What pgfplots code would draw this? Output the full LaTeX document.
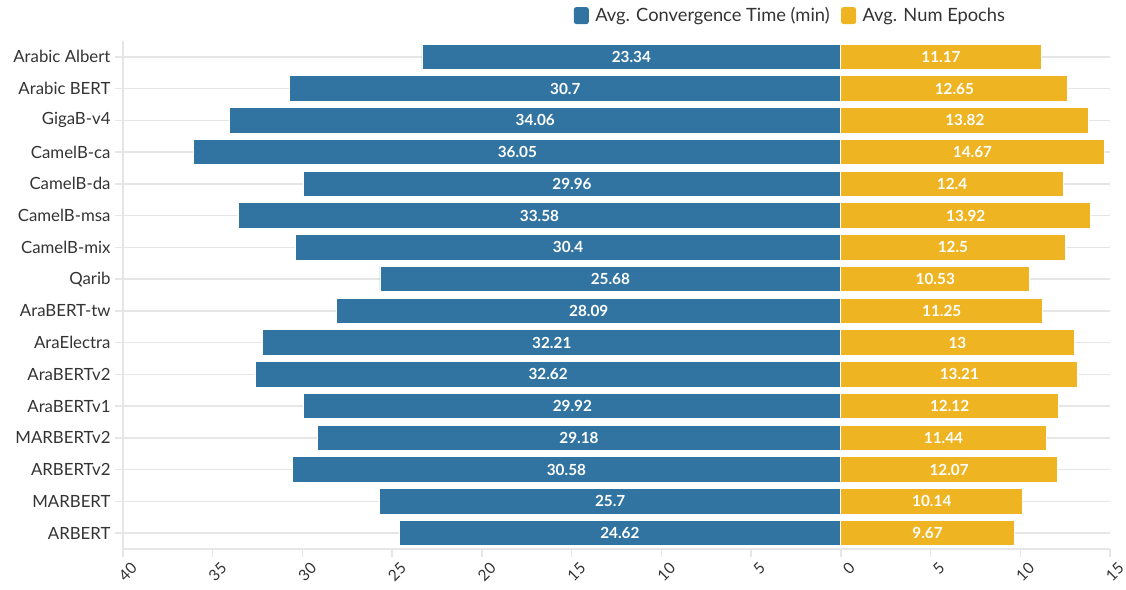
\documentclass[border=0pt]{standalone}
\usepackage{pgfplots}
\pgfplotsset{compat=1.18}
\usepackage{pgfplotstable}
\usepackage{fontspec}
\setmainfont{Lato}
\definecolor{cblue}{HTML}{3274A1}
\definecolor{cyel}{HTML}{EEB422}
\definecolor{gridc}{HTML}{E6E6E6}
\definecolor{txt}{HTML}{333333}

\pgfplotstableread{
y conv epochs
15 23.34 11.17
14 30.7 12.65
13 34.06 13.82
12 36.05 14.67
11 29.96 12.4
10 33.58 13.92
9 30.4 12.5
8 25.68 10.53
7 28.09 11.25
6 32.21 13
5 32.62 13.21
4 29.92 12.12
3 29.18 11.44
2 30.58 12.07
1 25.7 10.14
0 24.62 9.67
}\datatable

\begin{document}
\begin{tikzpicture}
\path[use as bounding box] (0bp,0bp) rectangle (1126bp,590bp);
\begin{axis}[
  at={(123bp,41bp)}, anchor=south west,
  scale only axis, width=987bp, height=508bp,
  xmin=-40, xmax=15, ymin=-0.5, ymax=15.5,
  axis lines*=left,
  axis line style={gridc, line width=1.6bp},
  ytick={0,...,15},
  yticklabels={ARBERT,MARBERT,ARBERTv2,MARBERTv2,AraBERTv1,AraBERTv2,AraElectra,AraBERT-tw,Qarib,CamelB-mix,CamelB-msa,CamelB-da,CamelB-ca,GigaB-v4,Arabic BERT,Arabic Albert},
  xtick={-40,-35,...,15},
  xticklabels={40,35,30,25,20,15,10,5,0,5,10,15},
  /pgf/number format/assume math mode=true,
  ymajorgrids, grid style={gridc, line width=1.4bp},
  tick align=outside, major tick length=8bp,
  tick style={gridc, line width=1.4bp},
  xtick pos=bottom, ytick pos=left,
  y tick label style={font=\fontsize{16.8bp}{19bp}\selectfont, text=txt, xshift=-1bp},
  x tick label style={font=\fontsize{15.5bp}{18bp}\selectfont, text=txt, rotate=45, anchor=east, inner sep=1bp, xshift=3bp, yshift=-14bp},
  legend style={at={(0.676,1.05)}, anchor=center, draw=none, fill=none,
    font=\fontsize{18.3bp}{21bp}\selectfont, text=txt,
    /tikz/every even column/.append style={column sep=9bp}},
  legend columns=2,
  legend image code/.code={\path (0bp,0bp) -- (19bp,0bp);\fill[#1,draw=none,rounded corners=2.5bp] (0bp,-8.5bp) rectangle (15bp,8.5bp);},
  clip=false,
]
\addplot[xbar, bar width=25.5bp, bar shift=0pt, fill=cblue, draw=white, line width=0.9bp]
  table[x expr=-\thisrow{conv}, y=y] \datatable;
\addlegendentry{Avg. Convergence Time (min)}
\addplot[xbar, bar width=25.5bp, bar shift=0pt, fill=cyel, draw=white, line width=0.9bp]
  table[x=epochs, y=y] \datatable;
\addlegendentry{Avg. Num Epochs}
\addplot[only marks, mark=none, forget plot, nodes near coords, point meta=explicit symbolic,
  every node near coord/.append style={anchor=center, text=white, font=\bfseries\fontsize{15.3bp}{17bp}\selectfont}]
  table[x expr=-\thisrow{conv}/2, y=y, meta=conv] \datatable;
\addplot[only marks, mark=none, forget plot, nodes near coords, point meta=explicit symbolic,
  every node near coord/.append style={anchor=center, text=white, font=\bfseries\fontsize{15.3bp}{17bp}\selectfont}]
  table[x expr=\thisrow{epochs}/2, y=y, meta=epochs] \datatable;
\end{axis}
\end{tikzpicture}
\end{document}
